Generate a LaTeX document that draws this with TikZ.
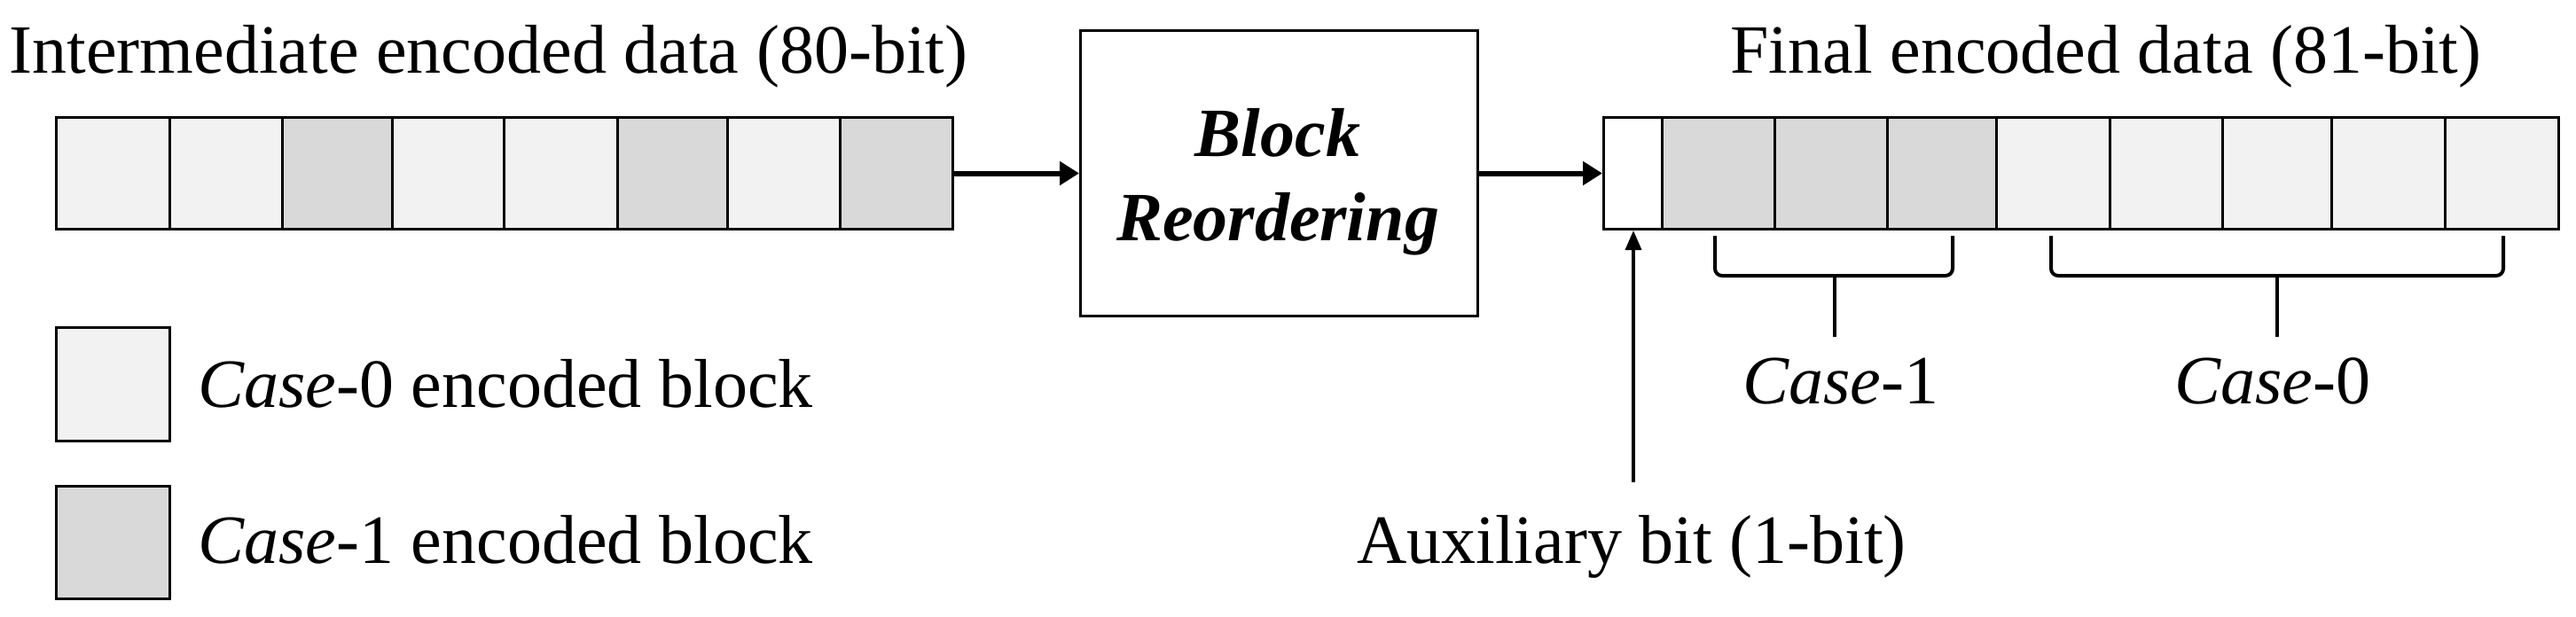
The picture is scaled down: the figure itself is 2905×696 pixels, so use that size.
\documentclass[tikz,border=0pt]{standalone}
\usepackage{fontspec}
\setmainfont{Liberation Serif}
\usetikzlibrary{arrows.meta}
\definecolor{cz}{HTML}{F2F2F2}
\definecolor{co}{HTML}{D9D9D9}
\begin{document}
\begin{tikzpicture}[x=1pt,y=-1pt,line width=3pt,
  txt/.style={inner sep=0pt,font=\fontsize{78}{94}\selectfont},
  blk/.style={draw,minimum height=126pt,inner sep=0pt,anchor=north west},
  arr/.style={line width=6pt,-{Triangle[length=22pt,width=26pt]}},
  brace/.style={line width=4pt,rounded corners=8pt}]
\useasboundingbox (0,0) rectangle (2905,696);
% left row
\foreach \a/\b/\c [count=\i] in {62/190/cz,190/317/cz,317/441/co,441/567/cz,567/695/cz,695/819/co,819/946/cz,946/1073/co}
  \node[blk,fill=\c,minimum width={(\b-\a)*1pt}] (l\i) at (\a,131) {};
\node[txt,anchor=base west] (ltitle) at (9,82) {Intermediate encoded data (80-bit)};
% reorder box
\node[draw,minimum width=448pt,minimum height=322pt,anchor=north west,inner sep=0pt] (box) at (1217,33) {};
\node[txt,font=\fontsize{78}{95}\selectfont\bfseries\itshape,align=center] (boxt) at (1441,205) {Block\\Reordering};
% right row
\foreach \a/\b/\c [count=\i] in {1807/1873/white,1873/2000/co,2000/2127/co,2127/2250/co,2250/2378/cz,2378/2505/cz,2505/2628/cz,2628/2756/cz,2756/2884/cz}
  \node[blk,fill=\c,minimum width={(\b-\a)*1pt}] (r\i) at (\a,131) {};
\node[txt,anchor=base] (rtitle) at (2375,82) {Final encoded data (81-bit)};
% arrows
\draw[arr] (l8.east) -- (box.west);
\draw[arr] (box.east) -- (r1.west);
% aux
\node[txt,anchor=base] (aux) at (1840,635) {Auxiliary bit (1-bit)};
\coordinate (auxs) at (1842,544);
\draw[line width=3.5pt,-{Triangle[length=22pt,width=18pt]}] (auxs) -- (auxs |- r1.south);
% braces
\draw[brace] (1934,266) -- (1934,311) -- (2202,311) -- (2202,266);
\coordinate (b1) at (2069,311);
\draw[line width=4pt] (b1) -- ++(0,69);
\draw[brace] (2313,266) -- (2313,311) -- (2823,311) -- (2823,266);
\coordinate (b0) at (2568,311);
\draw[line width=4pt] (b0) -- ++(0,69);
\node[txt,anchor=base] (c1) at (2076,455) {\textit{Case}-1};
\node[txt,anchor=base] (c0) at (2563,455) {\textit{Case}-0};
% legend
\node[blk,fill=cz,minimum width=128pt,minimum height=128pt] (lg0) at (62,368) {};
\node[blk,fill=co,minimum width=128pt,minimum height=127pt] (lg1) at (62,547) {};
\node[txt,anchor=base west] (lt0) at (222,459) {\textit{Case}-0 encoded block};
\node[txt,anchor=base west] (lt1) at (222,635) {\textit{Case}-1 encoded block};
\end{tikzpicture}
\end{document}
